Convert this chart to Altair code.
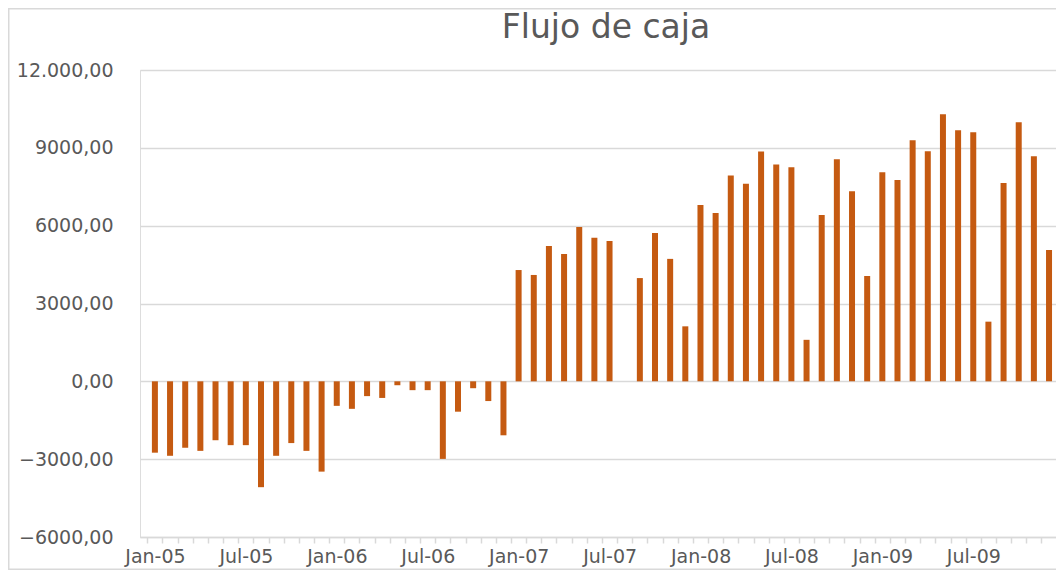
import json
import altair as alt
import pandas as pd

# ---- data ----
months = [
    "Jan-05", "Feb-05", "Mar-05", "Apr-05", "May-05", "Jun-05", "Jul-05", "Aug-05", "Sep-05", "Oct-05", "Nov-05", "Dec-05",
    "Jan-06", "Feb-06", "Mar-06", "Apr-06", "May-06", "Jun-06", "Jul-06", "Aug-06", "Sep-06", "Oct-06", "Nov-06", "Dec-06",
    "Jan-07", "Feb-07", "Mar-07", "Apr-07", "May-07", "Jun-07", "Jul-07", "Aug-07", "Sep-07", "Oct-07", "Nov-07", "Dec-07",
    "Jan-08", "Feb-08", "Mar-08", "Apr-08", "May-08", "Jun-08", "Jul-08", "Aug-08", "Sep-08", "Oct-08", "Nov-08", "Dec-08",
    "Jan-09", "Feb-09", "Mar-09", "Apr-09", "May-09", "Jun-09", "Jul-09", "Aug-09", "Sep-09", "Oct-09", "Nov-09", "Dec-09",
]
flujo = [
    -2750, -2870, -2560, -2680, -2270, -2460, -2460, -4080, -2870, -2380, -2680, -3480,
    -945, -1060, -570, -640, -150, -340, -340, -2990, -1170, -265, -760, -2080,
    4290, 4100, 5220, 4910, 5950, 5530, 5410, None, 3980, 5720, 4720, 2120,
    6800, 6490, 7930, 7620, 8860, 8360, 8250, 1600, 6410, 8560, 7330, 4060,
    8060, 7760, 9290, 8870, 10290, 9680, 9600, 2300, 7640, 9990, 8680, 5060,
]
y_ticks = [-6000, -3000, 0, 3000, 6000, 9000, 12000]
title_text = "Flujo de caja"

df = pd.DataFrame({"idx": list(range(len(months))), "mes": months, "flujo": flujo})
df = df.dropna()

FONT = "DejaVu Sans"
TXT = "#595959"
GRID = "#d9d9d9"
W, H = 916, 467
PAD_L, PAD_T, PAD_B = 132, 62, 33
X_DOMAIN = [-0.653, 59.13]
px_per_month = W / (X_DOMAIN[1] - X_DOMAIN[0])

x_tick_values = [k - 0.5 for k in range(len(months))]
months_js = json.dumps(months)
x_label_expr = (
    f"((datum.value + 0.5) % 6 == 0) ? {months_js}[datum.value + 0.5] : ''"
)
y_label_expr = (
    "abs(datum.value) >= 10000 ? "
    "replace(replace(replace(format(datum.value, ',.2f'), '.', ';'), ',', '.'), ';', ',') : "
    "replace(format(datum.value, '.2f'), '.', ',')"
)

x_enc = alt.X(
    "idx:Q",
    scale=alt.Scale(domain=X_DOMAIN, nice=False, zero=False),
    axis=alt.Axis(
        title=None,
        values=x_tick_values,
        labelExpr=x_label_expr,
        labelOffset=px_per_month / 2,
        labelFlush=False,
        labelOverlap=False,
        labelBound=False,
        grid=False,
        domain=True,
        domainColor=GRID,
        domainWidth=1.5,
        ticks=True,
        tickColor=GRID,
        tickWidth=1.5,
        tickSize=6,
        labelPadding=4,
        labelFont=FONT,
        labelFontSize=19,
        labelColor=TXT,
    ),
)
y_enc = alt.Y(
    "flujo:Q",
    scale=alt.Scale(domain=[-6000, 12000], nice=False),
    axis=alt.Axis(
        title=None,
        values=y_ticks,
        labelExpr=y_label_expr,
        grid=True,
        gridColor=GRID,
        gridWidth=1.5,
        domain=False,
        ticks=False,
        labelPadding=27,
        labelFont=FONT,
        labelFontSize=19,
        labelColor=TXT,
    ),
)

bars = alt.Chart(df).mark_bar(size=6, color="#C55A11", clip=True).encode(
    x=x_enc, y=y_enc
)

frame = alt.Chart(alt.Data(values=[{}])).mark_rect(
    fill=None, stroke=GRID, strokeWidth=1.5, clip=False
).encode(
    x=alt.value(-PAD_L + 0.75),
    x2=alt.value(W + 200),
    y=alt.value(-PAD_T + 0.75),
    y2=alt.value(H + PAD_B - 0.75),
)

title = alt.Chart(alt.Data(values=[{"t": title_text}])).mark_text(
    font=FONT,
    fontSize=33,
    color=TXT,
    align="center",
    baseline="alphabetic",
    clip=False,
).encode(
    text="t:N",
    x=alt.value(466),
    y=alt.value(-32),
)

chart = (
    alt.layer(bars, frame, title)
    .properties(
        width=W,
        height=H,
        autosize=alt.AutoSizeParams(type="none"),
        padding={"left": PAD_L, "top": PAD_T, "right": 0, "bottom": PAD_B},
    )
    .configure_view(stroke=None)
    .configure(background="white")
)

chart.save("out.html", embed_options={"renderer": "svg", "actions": False})
